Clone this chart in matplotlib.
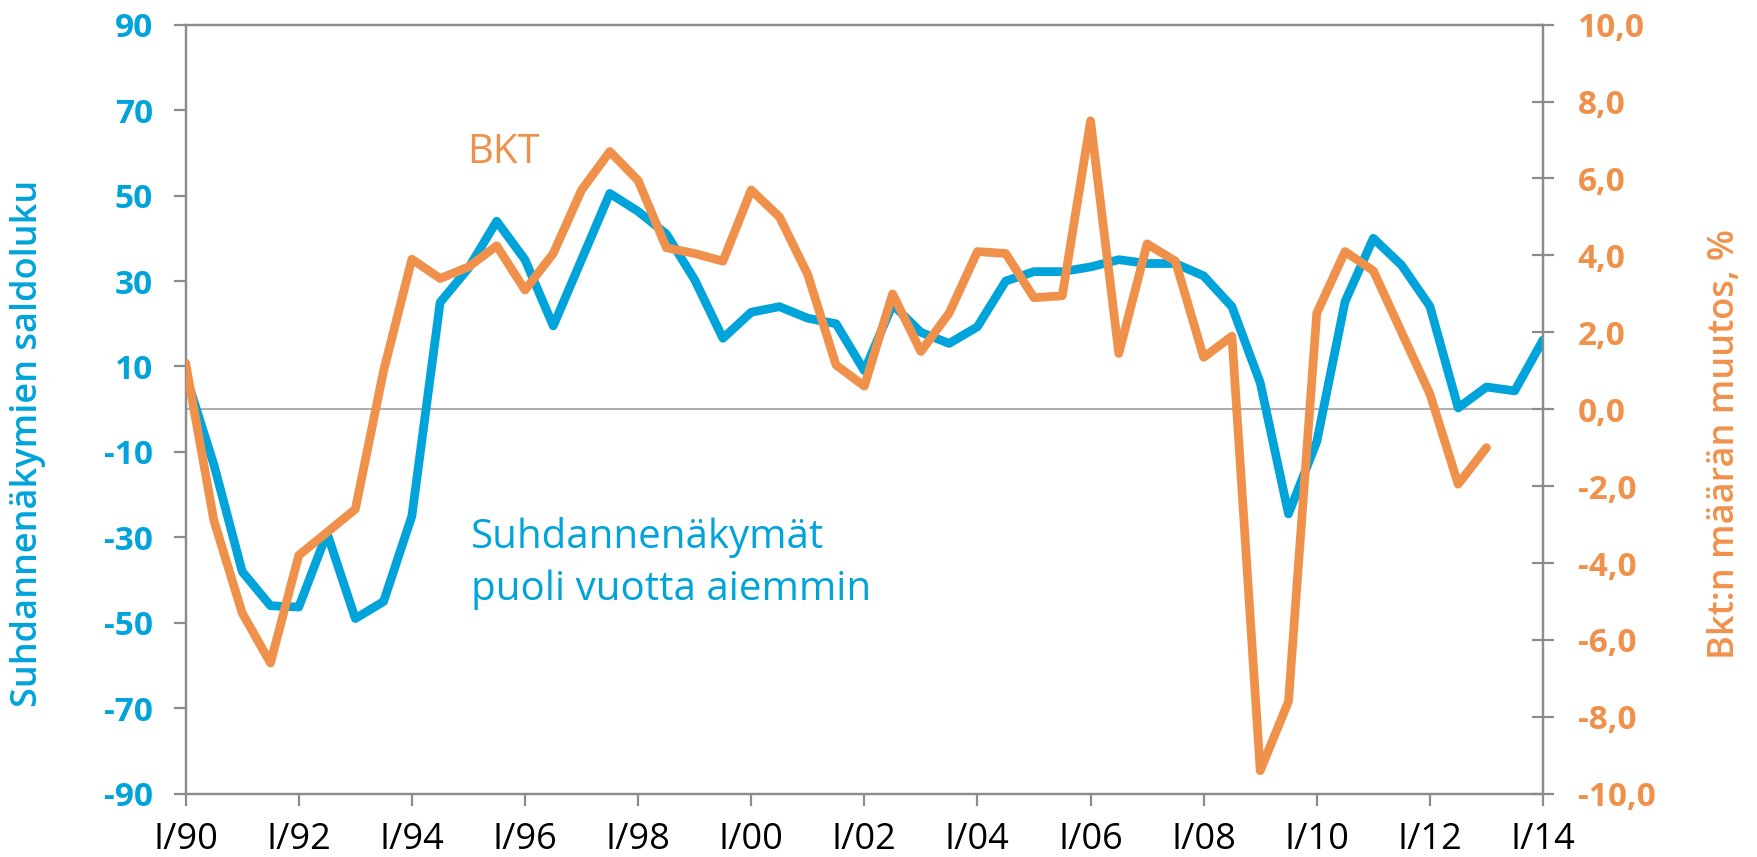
import numpy as np
import matplotlib
matplotlib.use("Agg")
import matplotlib.pyplot as plt

# ---- data (half-year observations) ----
start_year = 1990
suhdanne = [8, -13, -38, -46, -46.3, -29, -49, -45, -25, 25,
            33, 44, 35, 19.5, 35, 50.5, 46.3, 41, 30.3, 16.6,
            22.7, 24, 21.3, 20, 9, 24.5, 18, 15.4, 19.3, 30,
            32.2, 32.2, 33.3, 35, 34.1, 34.1, 31.2, 24, 6.2, -24.5,
            -7.6, 25.2, 40, 33.7, 24.1, 0.3, 5.2, 4.3, 16.2]
bkt = [1.2, -2.9, -5.3, -6.6, -3.8, -3.2, -2.6, 1.0, 3.9, 3.4,
       3.7, 4.25, 3.1, 4.05, 5.7, 6.7, 5.95, 4.2, 4.05, 3.85,
       5.7, 5.0, 3.5, 1.15, 0.6, 3.0, 1.5, 2.5, 4.1, 4.05,
       2.9, 2.95, 7.5, 1.45, 4.3, 3.85, 1.35, 1.9, -9.4, -7.6,
       2.5, 4.1, 3.6, 2.0, 0.4, -1.95, -1.0]
xtick_years = list(range(1990, 2015, 2))
xtick_labels = ["I/%02d" % (y % 100) for y in xtick_years]
left_ticks = list(range(-90, 91, 20))
right_ticks = list(range(-10, 11, 2))

x_s = start_year + 0.5 * np.arange(len(suhdanne))
x_b = start_year + 0.5 * np.arange(len(bkt))

BLUE = "#00A3DA"
ORANGE = "#F0914B"
GRAY = "#8C8C8C"

plt.rcParams['font.family'] = ['Open Sans', 'DejaVu Sans']

fig = plt.figure(figsize=(17.58, 8.57), dpi=100)
ax = fig.add_axes([0.1056, 0.0738, 0.7721, 0.8974])
ax2 = ax.twinx()

ax.set_xlim(1990, 2014)
ax.set_ylim(-90, 90)
ax2.set_ylim(-10, 10)

ax.axhline(0, color="#A6A6A6", lw=1.3, zorder=1)
ax2.plot(x_b, bkt, color=ORANGE, lw=6.3, solid_joinstyle='round',
         solid_capstyle='round', zorder=3)
ax.plot(x_s, suhdanne, color=BLUE, lw=6.3, solid_joinstyle='round',
        solid_capstyle='round', zorder=2)

for a in (ax, ax2):
    for s in a.spines.values():
        s.set_color(GRAY)
        s.set_linewidth(1.6)

ax.set_xticks(xtick_years)
ax.set_xticklabels(xtick_labels)
ax.set_yticks(left_ticks)
ax.set_yticklabels([str(v) for v in left_ticks])
ax2.set_yticks(right_ticks)
ax2.set_yticklabels([("%.1f" % v).replace(".", ",") for v in right_ticks])

ax.tick_params(axis='x', direction='out', length=8.6, width=1.6, color=GRAY,
               labelsize=26, labelcolor='black', pad=12)
ax.tick_params(axis='y', direction='out', length=8.6, width=1.6, color=GRAY,
               labelsize=24, labelcolor=BLUE, pad=15)
ax2.tick_params(axis='y', direction='inout', length=16, width=1.6, color=GRAY,
                labelsize=24, labelcolor=ORANGE, pad=17)
for lab in ax.get_yticklabels():
    lab.set_fontweight('bold')
for lab in ax2.get_yticklabels():
    lab.set_fontweight('bold')

fig.text(0.0157, 0.483, "Suhdannenäkymien saldoluku", rotation=90, color=BLUE,
         fontsize=26, fontweight='semibold', ha='center', va='center')
fig.text(0.9815, 0.482, "Bkt:n määrän muutos, %", rotation=90, color=ORANGE,
         fontsize=26, fontweight='semibold', ha='center', va='center')

ax.text(1994.97, 57.6, "BKT", color=ORANGE, fontsize=29, ha='left', va='baseline')
ax.text(1995.04, -32.5, "Suhdannenäkymät", color=BLUE, fontsize=29, ha='left', va='baseline')
ax.text(1995.04, -44.7, "puoli vuotta aiemmin", color=BLUE, fontsize=29, ha='left', va='baseline')

fig.savefig("out.png", dpi=100)
